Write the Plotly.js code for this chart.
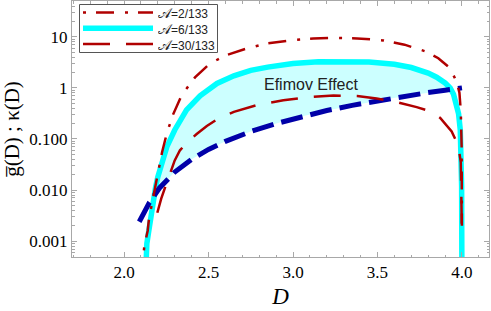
<!DOCTYPE html>
<html>
<head>
<meta charset="utf-8">
<script src="https://cdn.plot.ly/plotly-3.0.1.min.js"></script>
<style>html,body{margin:0;padding:0;background:#fff;}#chart{width:491px;height:311px;}</style>
</head>
<body>
<div id="chart"></div>
<script>
// kappa(D) - thick dark blue dashed
const D_kappa = [2.09, 2.15, 2.21, 2.30, 2.40, 2.50, 2.60, 2.75, 2.90, 3.05, 3.20, 3.35, 3.50, 3.65, 3.80, 3.90, 4.00];
const kappa   = [0.0024, 0.0057, 0.011, 0.0225, 0.040, 0.0625, 0.090, 0.14, 0.20, 0.275, 0.36, 0.455, 0.56, 0.68, 0.81, 0.90, 1.00];

// A = 2/133 (dash-dot red)
const D_A2 = [2.110, 2.114, 2.12, 2.13, 2.14, 2.148, 2.16, 2.173, 2.186, 2.20, 2.225, 2.253, 2.29, 2.341, 2.42, 2.509, 2.60, 2.726, 2.844, 3.00, 3.12, 3.24, 3.38, 3.534, 3.66, 3.79, 3.86, 3.919, 3.945, 3.969, 3.985, 3.993, 3.998, 3.9995];
const g_A2 = [0.0001, 0.0005, 0.0008, 0.0012, 0.0016, 0.0028, 0.0045, 0.0072, 0.013, 0.024, 0.055, 0.128, 0.30, 0.72, 1.6, 3.0, 4.3, 5.9, 7.4, 8.6, 9.2, 9.5, 9.3, 8.5, 7.0, 5.1, 3.8, 2.6, 1.9, 1.3, 0.8, 0.35, 0.07, 0.002];

// A = 6/133 (thick cyan)
const D_A6 = [2.124, 2.128, 2.135, 2.144, 2.155, 2.165, 2.175, 2.187, 2.20, 2.213, 2.225, 2.238, 2.253, 2.30, 2.37, 2.45, 2.55, 2.65, 2.75, 2.85, 3.00, 3.15, 3.30, 3.45, 3.60, 3.70, 3.80, 3.85, 3.90, 3.93, 3.95, 3.97, 3.98, 3.99, 3.995, 3.998, 3.9995];
const g_A6 = [0.0001, 0.0005, 0.0009, 0.0014, 0.0027, 0.0048, 0.0075, 0.0115, 0.018, 0.026, 0.037, 0.052, 0.070, 0.15, 0.37, 0.70, 1.22, 1.72, 2.20, 2.55, 3.00, 3.25, 3.30, 3.20, 2.90, 2.50, 1.95, 1.62, 1.25, 1.00, 0.75, 0.45, 0.31, 0.15, 0.06, 0.012, 0.0003];

// A = 30/133 (long-dash red)
const D_A30 = [2.197, 2.22, 2.246, 2.27, 2.30, 2.331, 2.38, 2.43, 2.49, 2.549, 2.65, 2.785, 2.943, 3.09, 3.24, 3.38, 3.495, 3.62, 3.732, 3.82, 3.87, 3.939, 3.978, 3.993, 3.999];
const g_A30 = [0.0036, 0.0068, 0.012, 0.020, 0.038, 0.060, 0.090, 0.125, 0.18, 0.24, 0.34, 0.46, 0.57, 0.66, 0.71, 0.69, 0.62, 0.52, 0.42, 0.34, 0.26, 0.14, 0.075, 0.035, 0.002];

const scriptA = '\uD835\uDC9C';
const legendNames = [scriptA + '=2/133', scriptA + '=6/133', scriptA + '=30/133'];
const xTickVals = [2.0, 2.5, 3.0, 3.5, 4.0];
const yTickVals = [0.001, 0.01, 0.1, 1, 10];
const yTickText = ["0.001", "0.010", "0.100", "1", "10"];

// ---- fill region between cyan (A=6/133) and kappa where cyan is above ----
function logInterp(xs, ys, x) {
  if (x <= xs[0]) return ys[0];
  for (let i = 0; i < xs.length - 1; i++) {
    if (x >= xs[i] && x <= xs[i + 1]) {
      const t = (x - xs[i]) / (xs[i + 1] - xs[i]);
      const a = Math.log10(ys[i]), b = Math.log10(ys[i + 1]);
      return Math.pow(10, a + t * (b - a));
    }
  }
  return ys[ys.length - 1];
}
let xa = null, xb = null;
for (let x = 2.13; x <= 3.999; x += 0.0005) {
  const d = Math.log10(logInterp(D_A6, g_A6, x)) - Math.log10(logInterp(D_kappa, kappa, x));
  if (d > 0) { if (xa === null) xa = x; xb = x; }
}
const topX = [xa], topY = [logInterp(D_A6, g_A6, xa)];
D_A6.forEach((d, i) => { if (d > xa && d < xb) { topX.push(d); topY.push(g_A6[i]); } });
topX.push(xb); topY.push(logInterp(D_A6, g_A6, xb));
const botX = [xa], botY = [logInterp(D_kappa, kappa, xa)];
D_kappa.forEach((d, i) => { if (d > xa && d < xb) { botX.push(d); botY.push(kappa[i]); } });
botX.push(xb); botY.push(logInterp(D_kappa, kappa, xb));
const fillX = topX.concat(botX.slice().reverse());
const fillY = topY.concat(botY.slice().reverse());

const red = '#b00000';
const styles = [
  { color: red, width: 2.5, dash: '3px,10px,18px,11px' },
  { color: '#00ffff', width: 5.5, dash: 'solid' },
  { color: red, width: 2.5, dash: '27px,16px' }
];
const traces = [
  { x: fillX, y: fillY, mode: 'lines', fill: 'toself', fillcolor: '#ccffff',
    line: { width: 0 }, showlegend: false, hoverinfo: 'skip' },
  { x: D_A6, y: g_A6, mode: 'lines', name: legendNames[1], showlegend: false, line: styles[1] },
  { x: D_kappa, y: kappa, mode: 'lines', name: '\u03BA(D)', showlegend: false,
    line: { color: '#0000a8', width: 5, dash: '22px,8px' } },
  { x: D_A30, y: g_A30, mode: 'lines', name: legendNames[2], showlegend: false, line: styles[2] },
  { x: D_A2, y: g_A2, mode: 'lines', name: legendNames[0], showlegend: false, line: styles[0] }
];

const frameColor = '#a8a8a8';
const yMinor = [];
[0.0001, 0.001, 0.01, 0.1, 1, 10].forEach(b => { for (let k = 2; k <= 9; k++) yMinor.push(b * k); });

// legend box drawn in paper coordinates (plot area: x 72..489 px, y 1..257 px)
const M = { l: 72, r: 2, t: 1, b: 54 };
const PW = 491 - M.l - M.r, PH = 311 - M.t - M.b;
const px = p => (p - M.l) / PW;
const py = p => 1 - (p - M.t) / PH;
const legRows = [12.5, 28.2, 44];
const shapes = [{
  type: 'rect', xref: 'paper', yref: 'paper', layer: 'above',
  x0: px(79.5), x1: px(217.5), y0: py(52.5), y1: py(4.5),
  line: { color: '#555', width: 1 }, fillcolor: '#fff'
}];
const annotations = [{
  x: 3.107, y: 0.073, xref: 'x', yref: 'y', showarrow: false,
  text: 'Efimov Effect', font: { family: 'Liberation Sans, Arial, sans-serif', size: 16, color: '#222' }
}];
legendNames.forEach((name, i) => {
  shapes.push({ type: 'line', xref: 'paper', yref: 'paper', layer: 'above',
    x0: px(83), x1: px(153), y0: py(legRows[i]), y1: py(legRows[i]), line: styles[i] });
  annotations.push({ xref: 'paper', yref: 'paper', x: px(156), y: py(legRows[i] + 0.5),
    xanchor: 'left', yanchor: 'middle', showarrow: false, height: 14, valign: 'middle',
    text: '<span style="font-size:14px">' + scriptA + '</span>' + name.slice(2),
    font: { family: 'Liberation Sans, Arial, sans-serif', size: 12, color: '#222' } });
});

const layout = {
  width: 491, height: 311,
  margin: M,
  paper_bgcolor: '#fff', plot_bgcolor: '#fff',
  font: { family: 'Liberation Serif, Times New Roman, serif', size: 17, color: '#000' },
  showlegend: false,
  xaxis: {
    type: 'linear', range: [1.692, 4.16],
    tickmode: 'array', tickvals: xTickVals, tickformat: '.1f',
    ticks: 'inside', ticklen: 5, tickcolor: frameColor, tickwidth: 1,
    showline: true, linecolor: frameColor, linewidth: 1, mirror: 'allticks',
    showgrid: false, zeroline: false,
    minor: { ticks: 'inside', ticklen: 2.5, tickcolor: frameColor, dtick: 0.1, tick0: 2.0, showgrid: false },
    title: { text: '<i>D</i>', font: { family: 'Liberation Serif, serif', size: 23 }, standoff: 6 }
  },
  yaxis: {
    type: 'log', range: [-3.31, 1.70],
    tickmode: 'array', tickvals: yTickVals, ticktext: yTickText,
    ticks: 'inside', ticklen: 5, tickcolor: frameColor, tickwidth: 1,
    showline: true, linecolor: frameColor, linewidth: 1, mirror: 'allticks',
    showgrid: false, zeroline: false,
    minor: { ticks: 'inside', ticklen: 2.5, tickcolor: frameColor, tickmode: 'array', tickvals: yMinor, showgrid: false },
    title: { text: 'g\u0305(D) ; \u03BA(D)', font: { family: 'Liberation Serif, serif', size: 21 }, standoff: 12 }
  },
  shapes: shapes,
  annotations: annotations
};

Plotly.newPlot('chart', traces, layout, { staticPlot: true, displayModeBar: false });
</script>
</body>
</html>
